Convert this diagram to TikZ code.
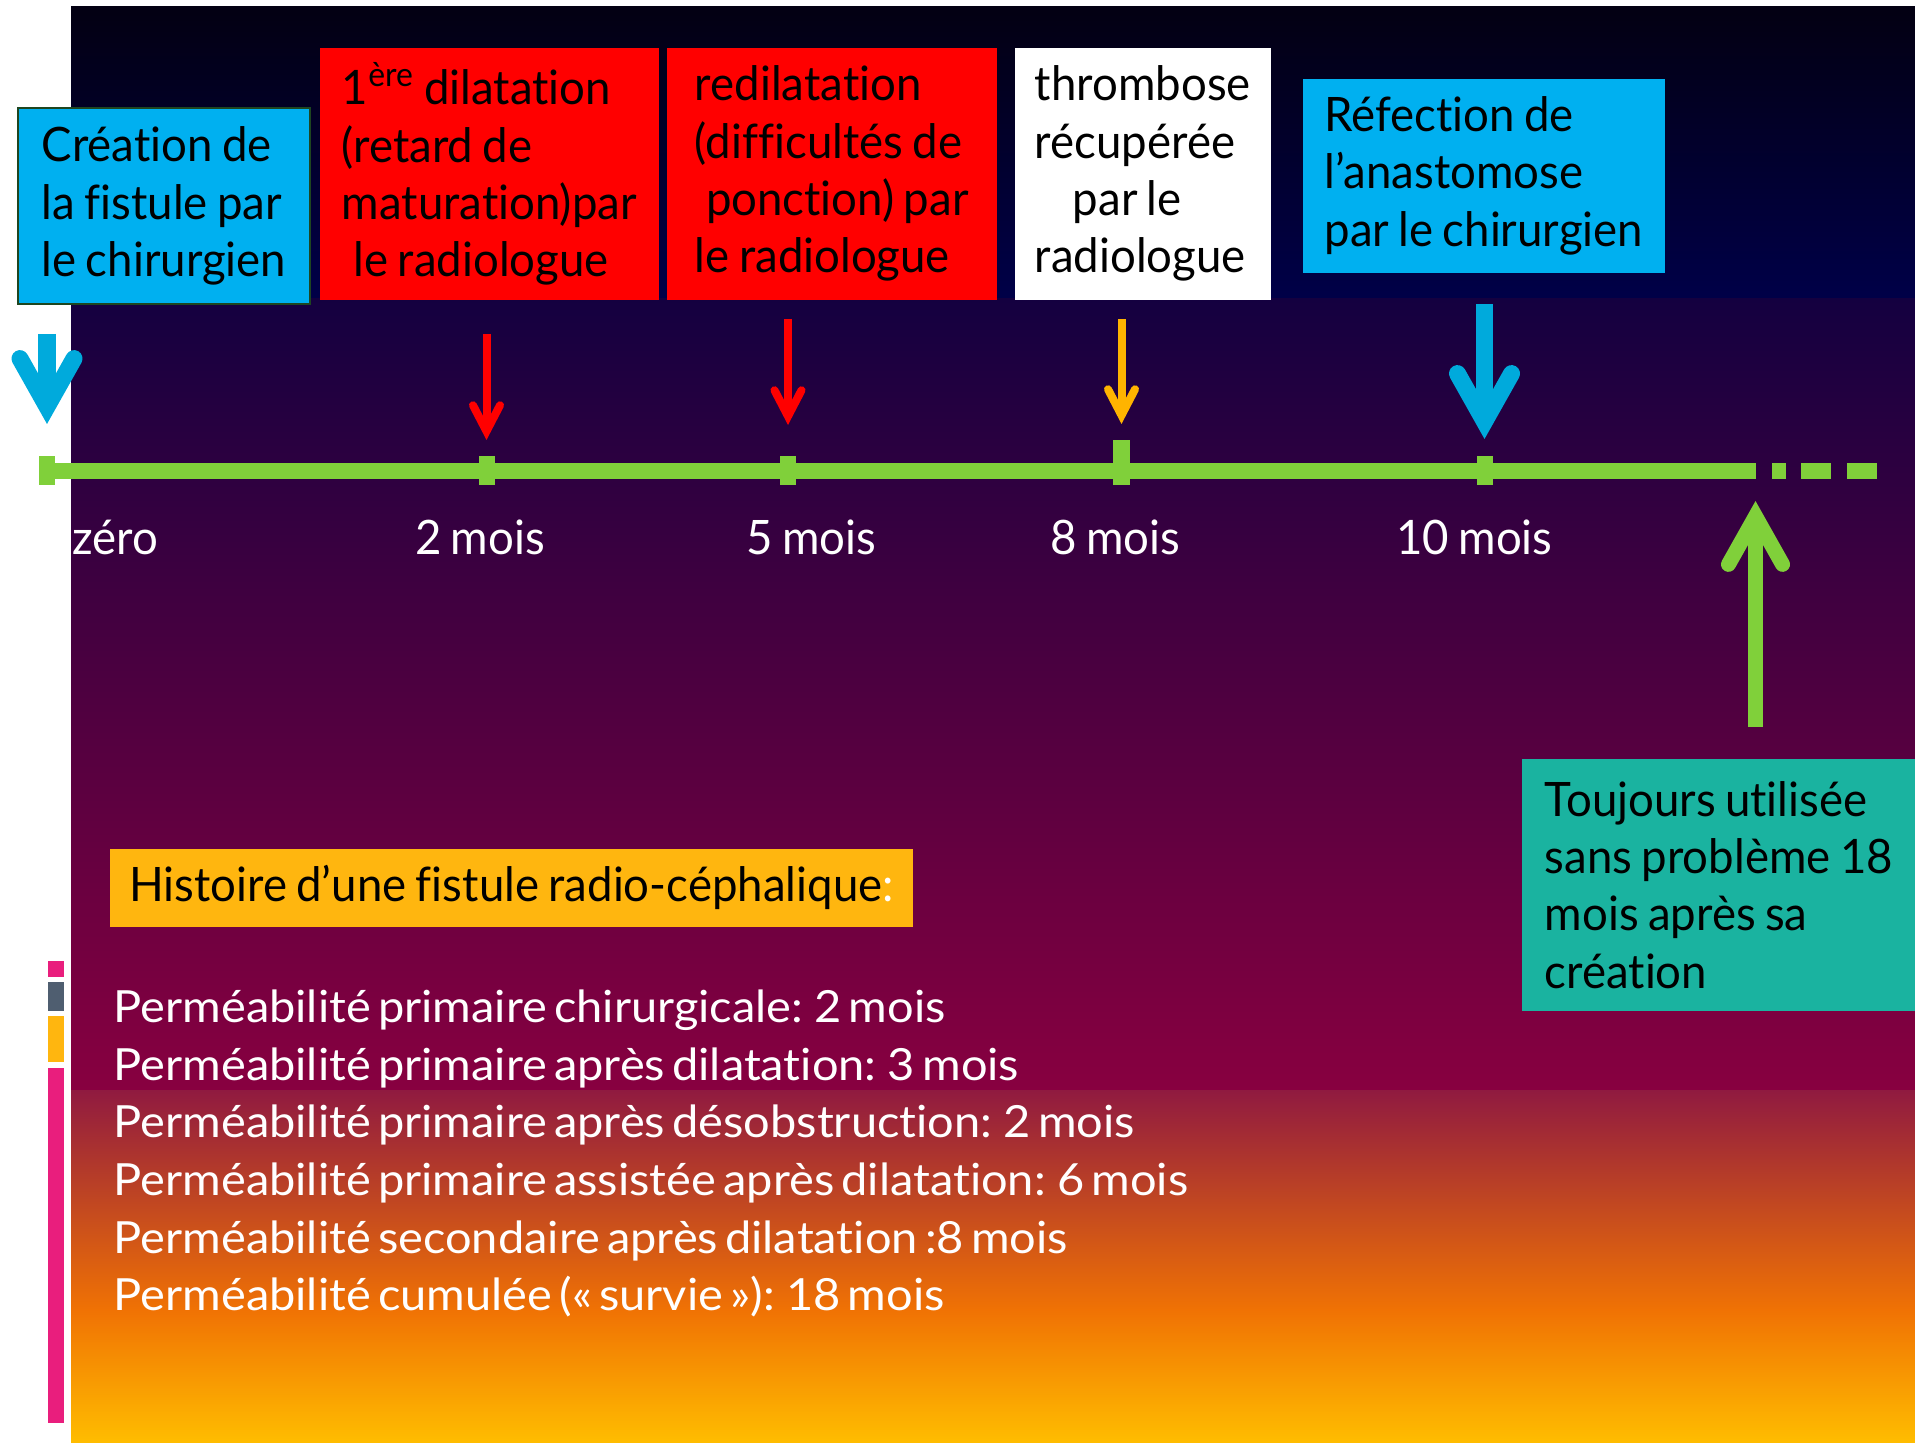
\documentclass[tikz,border=0pt]{standalone}
\usepackage{fontspec}
\setmainfont[FakeStretch=0.96, WordSpace=0.8, Ligatures=NoCommon]{Lato}
\newfontfamily\permfont[FakeStretch=1.06, WordSpace=0.6, Ligatures=NoCommon]{Lato}
\usetikzlibrary{arrows.meta,positioning}

\definecolor{boxblue}{HTML}{00B0F0}
\definecolor{arrowblue}{HTML}{00AADC}
\definecolor{boxred}{HTML}{FF0000}
\definecolor{boxteal}{HTML}{1AB3A0}
\definecolor{boxyellow}{HTML}{FFB60F}
\definecolor{boxedge}{HTML}{1E4620}
\definecolor{linegreen}{HTML}{80D03A}
\definecolor{arrowyellow}{HTML}{FFB400}
\definecolor{barpink}{HTML}{E91E7D}
\definecolor{bargray}{HTML}{4F5E70}
\definecolor{bgA}{HTML}{030012}
\definecolor{bgB}{HTML}{000048}
\definecolor{bgC}{HTML}{140040}
\definecolor{bgD}{HTML}{880040}
\definecolor{bgE}{HTML}{901A40}
\definecolor{bgF}{HTML}{F07204}
\definecolor{bgG}{HTML}{FFBD00}

\tikzset{
  event/.style={anchor=north west, inner sep=0pt, align=flush left,
    text=black, font=\fontsize{13.5}{16.3}\selectfont},
  monthlabel/.style={text=white, font=\fontsize{13.5}{16}\selectfont, anchor=base},
  permline/.style={text=white, font=\permfont\fontsize{12.6}{16}\selectfont,
    anchor=base west, inner sep=0pt},
  timeline/.style={linegreen, line width=0.16cm},
  bigarrow/.style={line width=0.17cm,
    -{Straight Barb[length=0.48cm, width=0.54cm, line cap=round, line join=miter]}},
  smallarrow/.style={line width=0.08cm,
    -{Straight Barb[length=0.26cm, width=0.27cm, line cap=round, line join=miter]}}
}

\begin{document}
\begin{tikzpicture}[x=0.01cm, y=-0.01cm]
  \useasboundingbox (0,0) rectangle (1915,1443);
  \fill[white] (0,0) rectangle (1915,1443);

  % background
  \shade[top color=bgA, bottom color=bgB] (71,7) rectangle (1915,299);
  \shade[top color=bgC, bottom color=bgD] (71,299) rectangle (1915,1090);
  \shade[top color=bgE, bottom color=bgF] (71,1090) rectangle (1915,1310);
  \shade[top color=bgF, bottom color=bgG] (71,1310) rectangle (1915,1443);

  % side bars
  \fill[barpink] (48,961) rectangle (63.5,977);
  \fill[bargray] (48,982) rectangle (63.5,1011);
  \fill[boxyellow] (48,1015.5) rectangle (63.5,1062);
  \fill[barpink] (48,1068) rectangle (63.5,1423);

  % time line
  \coordinate (fin) at (1755.5,471);
  \draw[timeline] (39,471) -- (fin);
  \foreach \a/\b in {1772/1786, 1801/1831, 1847/1877}
    \draw[timeline] (\a,471) -- (\b,471);
  \foreach \x/\n in {47/t0, 486.5/t2, 788/t5, 1484.5/t10} {
    \coordinate (\n) at (\x,471);
    \fill[linegreen] (\x-8,456) rectangle (\x+8,485);
  }
  \coordinate (t8) at (1121.5,471);
  \fill[linegreen] (1113,440) rectangle (1130,485);

  % arrows
  \draw[bigarrow, arrowblue] ([yshift=1.37cm]t0) -- ([yshift=0.47cm]t0);
  \draw[smallarrow, boxred] ([yshift=1.37cm]t2) -- ([yshift=0.31cm]t2);
  \draw[smallarrow, boxred] ([yshift=1.52cm]t5) -- ([yshift=0.46cm]t5);
  \draw[smallarrow, arrowyellow] ([yshift=1.52cm]t8) -- ([yshift=0.47cm]t8);
  \draw[bigarrow, arrowblue] ([yshift=1.67cm]t10) -- ([yshift=0.32cm]t10);
  \draw[bigarrow, linegreen, line width=0.15cm] ([yshift=-2.56cm]fin) -- ([yshift=-0.30cm]fin);

  % events
  \node[event, fill=boxblue, draw=boxedge, line width=0.02cm, minimum width=2.92cm,
    minimum height=1.96cm] (crea) at (17,107)
    {Création de\\la fistule par\\le chirurgien};
  \node[event, fill=boxred, minimum width=3.39cm, minimum height=2.52cm] (dil1) at (319,47)
    {1\textsuperscript{ère} dilatation\\(retard de\\maturation)par\\\hspace{0.12cm}le radiologue};
  \node[event, fill=boxred, minimum width=3.30cm, minimum height=2.52cm] (redil) at (666,47)
    {redilatation\\(difficultés de\\\hspace{0.11cm}ponction) par\\le radiologue\hspace{0.15cm}};
  \node[event, fill=white, minimum width=2.56cm, minimum height=2.52cm] (thromb) at (1014,47)
    {thrombose\\récupérée\\\hspace{0.38cm}par le\\radiologue};
  \node[event, fill=boxblue, minimum width=3.62cm, minimum height=1.94cm] (refec) at (1302,78)
    {Réfection de\\l’anastomose\\par le chirurgien};
  \node[event, fill=boxteal, minimum width=3.94cm, minimum height=2.52cm] (toujours) at (1521,758)
    {Toujours utilisée\\sans problème 18\hspace{0.1cm}\\mois après sa\\création};

  % month labels
  \node[monthlabel, anchor=base west] (l0) at (60,555) {zéro};
  \node[monthlabel] (l2) at (480,555) {2 mois};
  \node[monthlabel] (l5) at (811.5,555) {5 mois};
  \node[monthlabel] (l8) at (1115.5,555) {8 mois};
  \node[monthlabel] (l10) at (1474.5,555) {10 mois};

  % summary
  \node[event, fill=boxyellow, minimum width=8.03cm, minimum height=0.78cm] (histoire) at (109,848)
    {Histoire d’une fistule radio-céphalique\textcolor{white}{:}};
  \foreach \t [count=\i] in {Perméabilité primaire chirurgicale: 2 mois,
      Perméabilité primaire après dilatation: 3 mois,
      Perméabilité primaire après désobstruction: 2 mois,
      Perméabilité primaire assistée après dilatation: 6 mois,
      Perméabilité secondaire après dilatation :8 mois,
      Perméabilité cumulée (« survie »): 18 mois}
    \node[permline] (perm\i) at (113,{1022.6+57.6*(\i-1)}) {\t};
\end{tikzpicture}
\end{document}
